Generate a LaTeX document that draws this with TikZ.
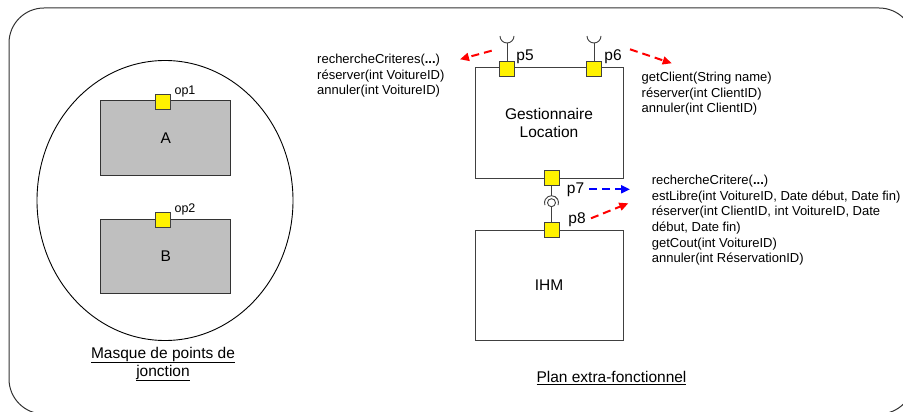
\documentclass[tikz,border=0pt]{standalone}
\usepackage{fontspec}
\setmainfont{Liberation Sans}
\usetikzlibrary{arrows.meta,shapes.geometric}
\begin{document}
\begin{tikzpicture}[x=1pt,y=-1pt,
  frame/.style={draw=black!80,line width=1pt},
  port/.style={draw=black!75,fill=yellow,line width=0.8pt,minimum size=15pt,inner sep=0pt,outer sep=0pt},
  graybox/.style={draw=black!80,fill=black!25,line width=1pt,minimum width=130pt,minimum height=74pt,inner sep=0pt,font=\fontsize{15.5}{18}\selectfont},
  compbox/.style={draw=black!75,fill=white,line width=1pt,minimum width=148pt,minimum height=110pt,inner sep=0pt,align=center,font=\fontsize{15.5}{18}\selectfont},
  methods/.style={anchor=west,align=left,inner sep=0pt,font=\fontsize{13}{15.6}\selectfont},
  portlabel/.style={inner sep=0pt,font=\fontsize{15.5}{18}\selectfont},
  oplabel/.style={inner sep=0pt,font=\fontsize{12.5}{15}\selectfont},
  caption/.style={inner sep=0pt,align=center,font=\fontsize{15.5}{18}\selectfont},
  wire/.style={draw=black!75,line width=0.9pt},
  flow/.style={line width=2pt,dash pattern=on 8pt off 5pt,-{Triangle[length=9pt,width=8pt]}},
]
\useasboundingbox (0,0) rectangle (903,412);
\begin{scope}
\clip (0,0) rectangle (903,412);
\draw[frame,rounded corners=35pt] (9,8) rectangle (914,414);
\end{scope}

% left part: join point mask
\node[draw,ellipse,minimum width=256pt,minimum height=280pt,inner sep=0pt,line width=0.9pt] (mask) at (165,200.5) {};
\node[graybox] (A) at (165.7,138) {A};
\node[graybox] (B) at (165.7,256) {B};
\node[port] (op1) at (163,101.8) {};
\node[port] (op2) at (163,220) {};
\node[oplabel] (op1l) at (185,91) {op1};
\node[oplabel] (op2l) at (185,209) {op2};
\node[caption] (maskcap) at (163,364) {\underline{Masque de points de}\\\underline{jonction}};

% right part: extra-functional plane
\node[compbox] (gl) at (549,123) {Gestionnaire\\Location};
\node[compbox,minimum height=110.7pt] (ihm) at (549,285.4) {IHM};
\node[port] (p5) at (507,68.5) {};
\node[port] (p6) at (594,68.5) {};
\node[port] (p7) at (551.5,178) {};
\node[port] (p8) at (551.5,230) {};

% required interfaces on top
\coordinate (s5) at (507,43);
\coordinate (s6) at (594,43);
\draw[wire] (p5.north) -- (s5);
\draw[wire] (s5) arc[start angle=270,end angle=180,radius=7pt];
\draw[wire] (s5) arc[start angle=270,end angle=360,radius=7pt];
\draw[wire] (p6.north) -- (s6);
\draw[wire] (s6) arc[start angle=270,end angle=180,radius=7pt];
\draw[wire] (s6) arc[start angle=270,end angle=360,radius=7pt];

% assembly between p7 and p8
\coordinate (sk) at (551.5,195.7);
\node[circle,draw=black!75,line width=0.9pt,minimum size=8pt,inner sep=0pt] (ball) at (551.5,202.7) {};
\draw[wire] (p7.south) -- (sk);
\draw[wire] (sk) arc[start angle=90,end angle=200,radius=7pt];
\draw[wire] (sk) arc[start angle=90,end angle=-20,radius=7pt];
\draw[wire] (ball.south) -- (p8.north);

\node[portlabel] (p5l) at (525,57) {p5};
\node[portlabel] (p6l) at (613,57) {p6};
\node[portlabel] (p7l) at (575.5,190) {p7};
\node[portlabel] (p8l) at (577,220) {p8};

% flows
\coordinate (a5s) at (491.7,50.7); \coordinate (a5e) at (460,59.3);
\coordinate (a6s) at (630,49.3); \coordinate (a6e) at (671.7,63.3);
\coordinate (a7s) at (589.3,189.3); \coordinate (a7e) at (630,189.3);
\coordinate (a8s) at (591,218.3); \coordinate (a8e) at (628.3,203.3);
\draw[flow,red] (a5s) -- (a5e);
\draw[flow,red] (a6s) -- (a6e);
\draw[flow,blue] (a7s) -- (a7e);
\draw[flow,red] (a8s) -- (a8e);

\node[methods] (m5) at (317,76) {rechercheCriteres(\textbf{...})\\réserver(int VoitureID)\\annuler(int VoitureID)};
\node[methods] (m6) at (641.5,94) {getClient(String name)\\réserver(int ClientID)\\annuler(int ClientID)};
\node[methods] (m7) at (651.7,220.3) {rechercheCritere(\textbf{...})\\estLibre(int VoitureID, Date début, Date fin)\\réserver(int ClientID, int VoitureID, Date\\début, Date fin)\\getCout(int VoitureID)\\annuler(int RéservationID)};

\node[caption] (plancap) at (611.5,378) {\underline{Plan extra-fonctionnel}};
\end{tikzpicture}
\end{document}
